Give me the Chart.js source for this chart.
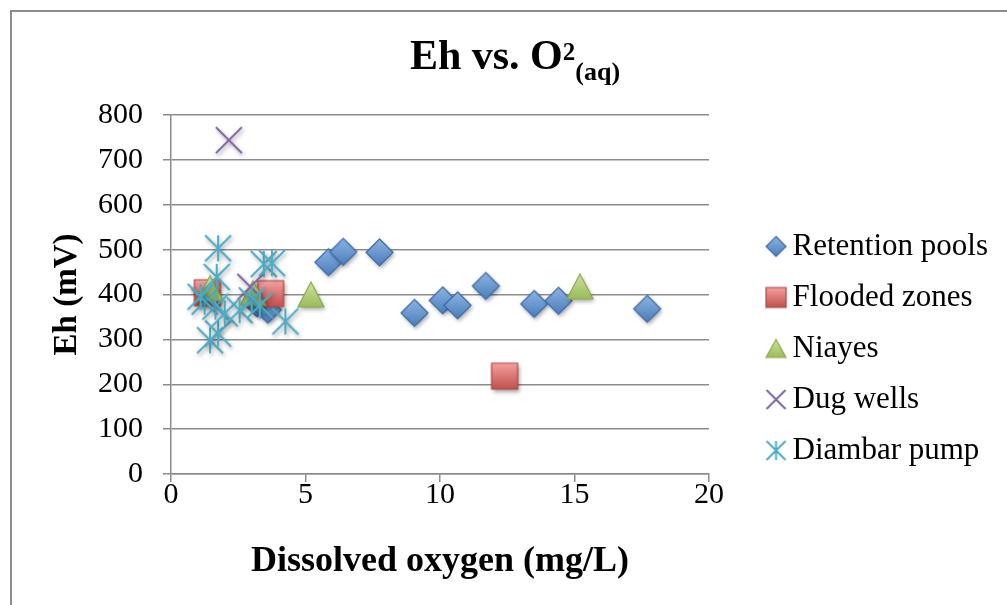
<!DOCTYPE html>
<html>
<head>
<meta charset="utf-8">
<script src="https://cdn.jsdelivr.net/npm/chart.js@4/dist/chart.umd.min.js"></script>
<style>
    html, body { margin: 0; padding: 0; background: #fff; }
    #wrap { position: relative; width: 1007px; height: 605px; overflow: hidden; }
    #frame { position: absolute; left: 10px; top: 10px; width: 1100px; height: 700px;
             border-left: 2px solid #8c8c8c; border-top: 2px solid #8c8c8c; }
    #title { position: absolute; left: 0; top: 35px; width: 1030px; text-align: center;
             font: bold 42px "Liberation Serif", serif; line-height: 40px; white-space: nowrap; color: #000; }
    #title .sup { font-size: 25px; position: relative; top: -9px; }
    #title .sub { font-size: 26px; position: relative; top: 11px; }
    canvas { position: absolute; left: 0; top: 0; }
</style>
</head>
<body>
<div id="wrap">
    <canvas id="chart" width="1007" height="605"></canvas>
    <div id="frame"></div>
    <div id="title">Eh vs. O<span class="sup">2</span><span class="sub">(aq)</span></div>
</div>
<script>
// --- data ---
const seriesNames = ['Retention pools', 'Flooded zones', 'Niayes', 'Dug wells', 'Diambar pump'];

const retentionX = [3.2, 3.6, 5.85, 6.4, 7.75, 9.05, 10.1, 10.65, 11.7, 13.5, 14.4, 17.7];
const retentionY = [380, 366, 472, 495, 494, 359, 387, 376, 419, 379, 386, 368];

const floodedX = [1.35, 3.7, 12.4];
const floodedY = [404, 402, 218];

const niayesX = [1.45, 3.05, 5.2, 15.2];
const niayesY = [414, 403, 400, 418];

const dugX = [2.15, 2.95];
const dugY = [744, 417];

const diambarX = [1.75, 1.7, 3.45, 3.75, 4.25, 1.45, 1.75, 1.25, 1.65, 2.0, 2.55, 3.0, 3.3, 1.1];
const diambarY = [503, 439, 468, 470, 340, 298, 313, 384, 373, 358, 365, 387, 376, 395];

const xTicks = [0, 5, 10, 15, 20];
const yTicks = [0, 100, 200, 300, 400, 500, 600, 700, 800];

const FONT = '"Liberation Serif", "Times New Roman", serif';
const GRID = '#8c8c8c';

function toPoints(xs, ys) {
    return xs.map((x, i) => ({ x: x, y: ys[i] }));
}

// Excel-like marker drawn on a small canvas (gradient fill + soft shadow)
function makeMarker(shape, w, h, colors, shadow) {
    const pad = shadow ? 7 : 2;
    const c = document.createElement('canvas');
    c.width = Math.ceil(w + pad * 2);
    c.height = Math.ceil(h + pad * 2);
    const g = c.getContext('2d');
    const cx = c.width / 2, cy = c.height / 2;
    if (shadow) {
        g.shadowColor = 'rgba(0,0,0,0.35)';
        g.shadowBlur = 4;
        g.shadowOffsetX = 1.5;
        g.shadowOffsetY = 2.5;
    }
    g.beginPath();
    if (shape === 'diamond') {
        g.moveTo(cx, cy - h / 2); g.lineTo(cx + w / 2, cy);
        g.lineTo(cx, cy + h / 2); g.lineTo(cx - w / 2, cy); g.closePath();
    } else if (shape === 'square') {
        g.rect(cx - w / 2, cy - h / 2, w, h);
    } else if (shape === 'triangle') {
        g.moveTo(cx, cy - h / 2); g.lineTo(cx + w / 2, cy + h / 2);
        g.lineTo(cx - w / 2, cy + h / 2); g.closePath();
    } else if (shape === 'x') {
        g.moveTo(cx - w / 2, cy - h / 2); g.lineTo(cx + w / 2, cy + h / 2);
        g.moveTo(cx + w / 2, cy - h / 2); g.lineTo(cx - w / 2, cy + h / 2);
    } else if (shape === 'star') {
        g.moveTo(cx - w / 2, cy - h / 2); g.lineTo(cx + w / 2, cy + h / 2);
        g.moveTo(cx + w / 2, cy - h / 2); g.lineTo(cx - w / 2, cy + h / 2);
        g.moveTo(cx, cy - h / 2); g.lineTo(cx, cy + h / 2);
    }
    if (colors.fill) {
        const grad = g.createLinearGradient(0, cy - h / 2, 0, cy + h / 2);
        grad.addColorStop(0, colors.fill[0]);
        grad.addColorStop(1, colors.fill[1]);
        g.fillStyle = grad;
        g.fill();
        g.shadowColor = 'transparent';
    }
    g.lineWidth = colors.lineWidth || 1.2;
    g.strokeStyle = colors.stroke;
    g.stroke();
    return c;
}

const blue = { fill: ['#8db4e3', '#4a7ebb'], stroke: '#3a68a6' };
const red = { fill: ['#f4a09e', '#c0504d'], stroke: '#b24441' };
const green = { fill: ['#cde2a3', '#9bbb59'], stroke: '#8aab4a' };
const purple = { stroke: '#8064a2', lineWidth: 2 };
const teal = { stroke: '#4bacc6', lineWidth: 2 };

const chartMarks = [
    makeMarker('diamond', 27, 27, blue, true),
    makeMarker('square', 26, 26, red, true),
    makeMarker('triangle', 26, 25, green, true),
    makeMarker('x', 26, 26, purple, true),
    makeMarker('star', 26, 26, teal, true)
];
const legendMarks = [
    makeMarker('diamond', 20, 20, blue, false),
    makeMarker('square', 20, 20, red, false),
    makeMarker('triangle', 20, 18, green, false),
    makeMarker('x', 19, 19, purple, false),
    makeMarker('star', 19, 19, teal, false)
];

const seriesData = [
    toPoints(retentionX, retentionY),
    toPoints(floodedX, floodedY),
    toPoints(niayesX, niayesY),
    toPoints(dugX, dugY),
    toPoints(diambarX, diambarY)
];

const datasets = seriesData.map((pts, i) => ({
    label: seriesNames[i],
    data: pts,
    pointStyle: chartMarks[i],
    pointRadius: 13,
    order: seriesNames.length - i // later series drawn on top, like Excel
}));

new Chart(document.getElementById('chart'), {
    type: 'scatter',
    data: { datasets: datasets },
    options: {
        responsive: false,
        animation: false,
        devicePixelRatio: 1,
        layout: { padding: { top: 115, bottom: 23, left: 0, right: 9 } },
        plugins: {
            tooltip: { enabled: false },
            legend: {
                position: 'right',
                maxWidth: 400,
                labels: {
                    usePointStyle: true,
                    boxWidth: 2,
                    boxHeight: 14,
                    padding: 20,
                    color: '#000',
                    font: { family: FONT, size: 31 },
                    generateLabels: chart => chart.data.datasets.map((ds, i) => ({
                        text: ds.label,
                        pointStyle: legendMarks[i],
                        datasetIndex: i,
                        hidden: false,
                        lineWidth: 0,
                        fontColor: '#000'
                    }))
                }
            }
        },
        scales: {
            x: {
                type: 'linear',
                min: xTicks[0],
                max: xTicks[xTicks.length - 1],
                afterBuildTicks: s => { s.ticks = xTicks.map(v => ({ value: v })); },
                afterFit: s => { s.height = 108; },
                ticks: { color: '#000', font: { family: FONT, size: 30 }, padding: -5, maxRotation: 0 },
                grid: { drawOnChartArea: false, drawTicks: true, tickLength: 8, color: GRID, lineWidth: 1.5 },
                border: { color: GRID, width: 1.5 },
                title: {
                    display: true,
                    text: 'Dissolved oxygen (mg/L)',
                    color: '#000',
                    font: { family: FONT, size: 36, weight: 'bold' },
                    padding: { top: 0, bottom: -1 }
                }
            },
            y: {
                type: 'linear',
                min: yTicks[0],
                max: yTicks[yTicks.length - 1],
                afterBuildTicks: s => { s.ticks = yTicks.map(v => ({ value: v })); },
                afterFit: s => { s.width = 171; },
                ticks: { color: '#000', font: { family: FONT, size: 30 }, padding: 20 },
                grid: { color: GRID, lineWidth: 1.5, tickLength: 8 },
                border: { color: GRID, width: 1.5 },
                title: {
                    display: true,
                    text: 'Eh (mV)',
                    color: '#000',
                    font: { family: FONT, size: 33, weight: 'bold' },
                    padding: { top: 48, bottom: 0 }
                }
            },
            // empty spacer between plot and legend
            gap: {
                position: 'right',
                min: 0,
                max: 1,
                ticks: { display: false },
                grid: { display: false },
                border: { display: false },
                afterFit: s => { s.width = 46; }
            }
        }
    }
});
</script>
</body>
</html>
